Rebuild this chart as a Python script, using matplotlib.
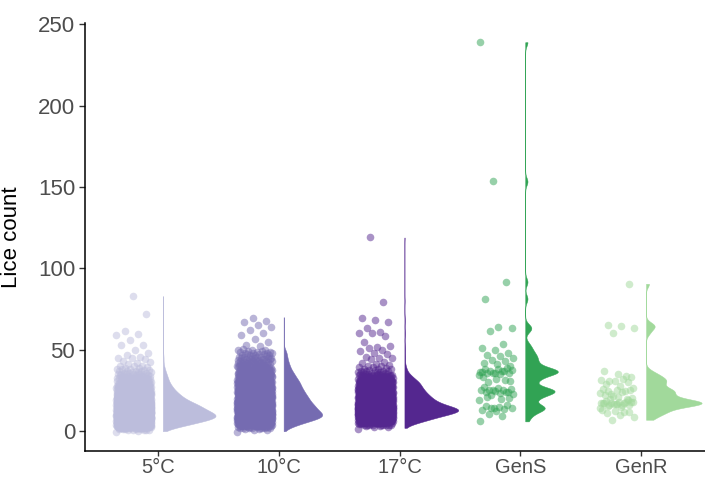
import numpy as np
import matplotlib.pyplot as plt

plt.rcParams['font.family'] = ['Liberation Sans', 'DejaVu Sans']

groups = ["5°C", "10°C", "17°C", "GenS", "GenR"]
colors = ["#bcbddc", "#756bb1", "#54278f", "#31a354", "#a1d99b"]

# temperature groups: lice count -> number of fish, plus sparse high counts
vals_5 = np.arange(0, 41)
n_5 = [2, 10, 22, 35, 48, 60, 72, 85, 95, 100, 97, 92, 86, 80, 74, 70, 66, 58, 52, 46,
       40, 36, 33, 29, 26, 23, 20, 18, 16, 14, 12, 11, 10, 9, 8, 7, 6, 5, 4, 3, 3]
high_5 = [41, 42, 42, 43, 44, 45, 45, 46, 47, 48, 50, 53, 53, 56, 59, 60, 62, 72, 83]

vals_10 = np.arange(0, 51)
n_10 = [1, 4, 10, 18, 26, 34, 44, 54, 64, 70, 69, 67, 63, 59, 57, 55, 53, 50, 47, 45,
        44, 42, 40, 38, 36, 35, 33, 31, 30, 29, 28, 26, 24, 22, 20, 19, 17, 15, 13, 12,
        11, 10, 9, 8, 7, 7, 6, 6, 5, 5, 4]
high_10 = [52, 53, 55, 57, 59, 60, 62, 64, 65, 67, 68, 70]

vals_17 = np.arange(0, 41)
n_17 = [0, 0, 1, 4, 12, 22, 32, 42, 50, 60, 72, 84, 95, 100, 92, 80, 70, 62, 56, 51,
        48, 45, 42, 39, 36, 34, 32, 30, 28, 27, 26, 22, 18, 15, 13, 9, 6, 5, 4, 3, 3]
high_17 = [41, 42, 43, 44, 45, 45, 46, 47, 48, 49, 50, 51, 52, 52, 55, 58, 60, 60, 61,
           64, 67, 68, 70, 80, 119]

# genetic lines: individual fish
gen_s = [34.5, 35, 35.5, 36, 36, 36.5, 37, 37, 37.5, 38, 38, 39, 35.8, 36.3, 37.2,
         30, 31, 32, 33, 31.5,
         22.5, 23, 23.5, 24, 24, 24.5, 25, 25, 25.5, 26, 26.5, 27, 24.2, 25.3,
         19, 20, 21, 20.5,
         12.5, 13, 13.5, 14, 14.5, 15, 15.5, 16, 14.2,
         6, 9.2, 10.4,
         40, 41, 42, 43, 44, 45, 46, 47, 48, 50, 51.3, 53.8,
         61.7, 63.6, 64.2, 81.3, 91.7, 153.4, 239]
gen_r = [14, 15, 15.5, 16, 16.5, 17, 17, 17.5, 18, 18, 18.5, 19, 16.8, 17.3, 15.8,
         16.2, 17.8, 16.6, 17.1, 18.2,
         7, 8.5, 10, 11, 12, 12.5, 13, 11.5,
         20, 20.5, 21, 22, 19.5, 21.5,
         23.5, 24, 24.5, 25, 25.5, 26, 24.8, 23, 26.5,
         28, 29, 30, 31, 31.5, 32, 30.5,
         33.5, 35, 36.7, 34,
         60.5, 63.6, 64.8, 65.4, 90.5]

data = [np.repeat(vals_5, n_5).astype(float).tolist() + high_5,
        np.repeat(vals_10, n_10).astype(float).tolist() + high_10,
        np.repeat(vals_17, n_17).astype(float).tolist() + high_17,
        gen_s, gen_r]
data = [np.array(d, dtype=float) for d in data]
bws = [1.5, 1.6, 1.6, 2.3, 2.1]


def kde(x, bw, grid):
    z = (grid[:, None] - x[None, :]) / bw
    return np.exp(-0.5 * z ** 2).sum(axis=1) / (len(x) * bw * np.sqrt(2 * np.pi))


fig = plt.figure(figsize=(7.05, 4.79), dpi=100)
ax = fig.add_axes([0.1206, 0.0585, 0.8794, 0.8935])

dens = []
for d, bw in zip(data, bws):
    grid = np.linspace(d.min(), d.max(), 800)
    dens.append((grid, kde(d, bw, grid)))
dmax = max(dd.max() for _, dd in dens)

phi1, phi2 = 0.6180339887, 0.7548776662
for i, (d, col) in enumerate(zip(data, colors)):
    pos = i + 1
    k = np.arange(len(d))
    xj = pos - 0.2 + ((k * phi1) % 1 - 0.5) * 0.29
    yj = d.copy()
    if i < 3:
        yj = d + ((k * phi2) % 1 - 0.5) * 0.8
    ax.scatter(xj, yj, s=30, color=col, alpha=0.5, linewidths=0, zorder=2)
    grid, dd = dens[i]
    x0 = pos + 0.04
    ax.fill_betweenx(grid, x0, x0 + dd / dmax * 0.46, color=col, lw=0.35,
                     edgecolor=col, zorder=3)

ax.set_xlim(0.396, 5.528)
ax.set_ylim(-12.2, 250.8)
ax.set_xticks(range(1, 6))
ax.set_xticklabels(groups)
ax.set_yticks([0, 50, 100, 150, 200, 250])
ax.set_ylabel("Lice count", fontsize=16, color="black")
ax.yaxis.set_label_coords(-0.102, 0.5)

for s in ["top", "right"]:
    ax.spines[s].set_visible(False)
for s in ["left", "bottom"]:
    ax.spines[s].set_linewidth(1.1)
    ax.spines[s].set_color("black")
ax.tick_params(length=4, width=1, color="#333333", labelcolor="#4d4d4d",
               labelsize=16, pad=3)
ax.tick_params(axis="x", length=3.5, labelsize=14.5, pad=1.5)

fig.savefig("out.png", dpi=100)
